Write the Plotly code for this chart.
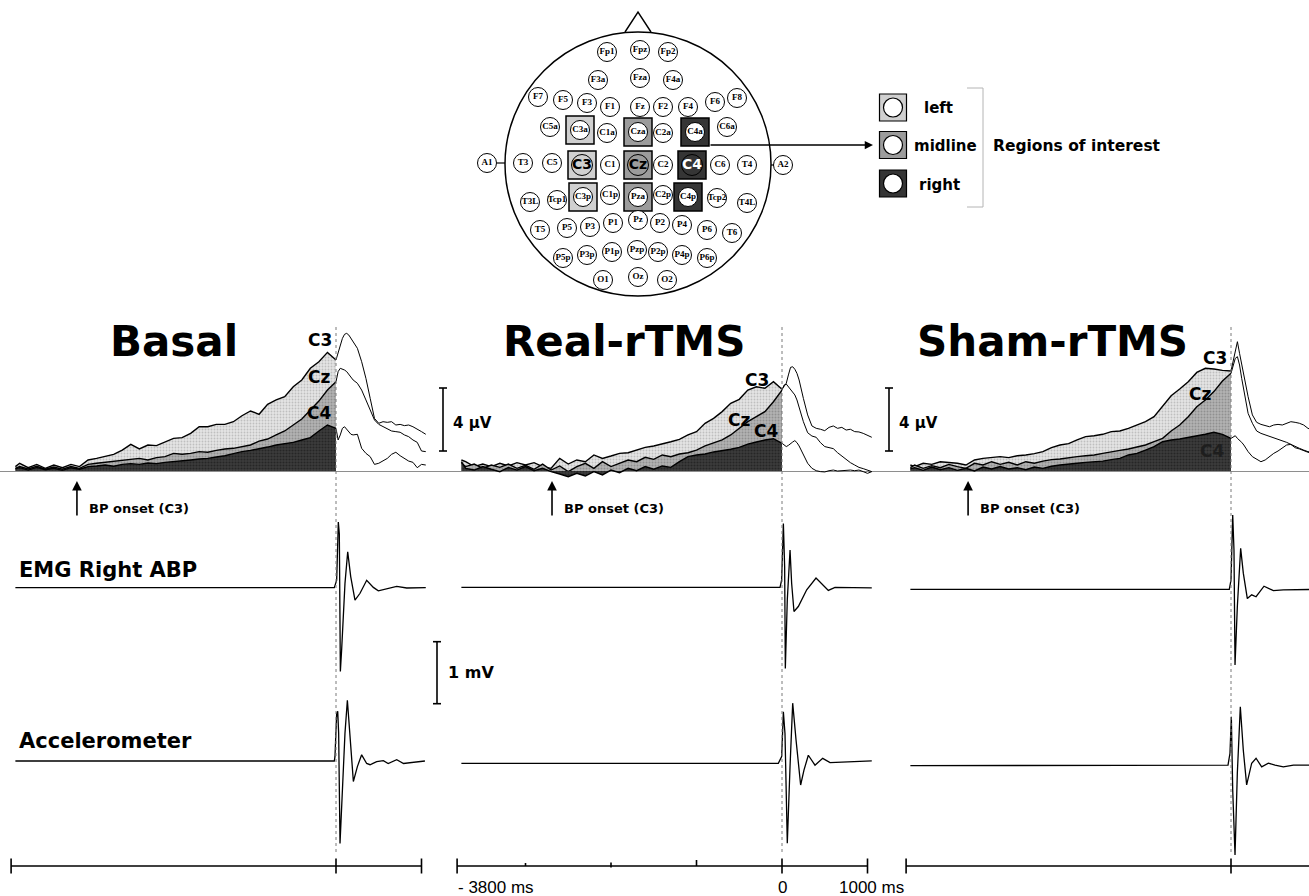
import plotly.graph_objects as go

# ---------------------------------------------------------------- data
CONDITIONS = ["Basal", "Real-rTMS", "Sham-rTMS"]
CHANNELS = ["C3", "Cz", "C4"]

# sample times (ms, movement onset = 0)
T_PRE = [-3750, -3700, -3600, -3500, -3400, -3300, -3200, -3100, -3000, -2900,
         -2800, -2700, -2600, -2500, -2400, -2300, -2200, -2100, -2000, -1900,
         -1800, -1700, -1600, -1500, -1400, -1300, -1200, -1100, -1000, -900,
         -800, -700, -600, -500, -400, -300, -200, -100, 0]
T_POST = [0, 25, 50, 75, 100, 125, 150, 175, 200, 250, 300, 350, 400, 450, 500,
          550, 600, 650, 700, 750, 800, 850, 900, 950, 1000, 1050]

# Bereitschaftspotential (µV) before movement onset
BASAL_C3_PRE = [0.28, 0.49, 0.21, 0.42, 0.17, 0.38, 0.21, 0.42, 0.28, 0.70,
                0.80, 0.91, 1.06, 1.33, 1.69, 1.40, 1.65, 1.61, 1.82, 2.07,
                2.12, 2.39, 2.81, 2.81, 2.96, 2.96, 3.13, 3.51, 3.81, 3.60,
                4.23, 4.51, 4.72, 5.35, 5.78, 6.52, 6.94, 7.53, 7.05]
BASAL_CZ_PRE = [0.17, 0.28, 0.13, 0.30, 0.11, 0.25, 0.11, 0.28, 0.17, 0.42,
                0.49, 0.55, 0.63, 0.70, 0.76, 0.80, 0.70, 0.85, 0.91, 1.12,
                1.06, 1.12, 1.23, 1.19, 1.31, 1.40, 1.44, 1.54, 1.65, 1.90,
                2.03, 2.29, 2.54, 2.92, 3.30, 3.87, 4.44, 5.14, 5.67]
BASAL_C4_PRE = [0.13, 0.21, 0.06, 0.23, 0.08, 0.17, 0.04, 0.21, 0.11, 0.28,
                0.32, 0.38, 0.30, 0.42, 0.47, 0.42, 0.51, 0.47, 0.55, 0.59,
                0.63, 0.70, 0.76, 0.80, 0.89, 0.97, 1.10, 1.23, 1.31, 1.40,
                1.52, 1.65, 1.74, 1.82, 1.97, 2.12, 2.54, 2.92, 2.71]

REAL_C3_PRE = [0.70, 0.59, 0.28, 0.44, 0.28, 0.49, 0.32, 0.53, 0.38, 0.53,
               0.28, 0.17, 0.80, 0.44, 0.70, 0.59, 1.02, 0.80, 0.95, 1.12,
               1.16, 1.33, 1.50, 1.59, 1.71, 1.86, 2.01, 2.29, 2.50, 3.03,
               3.34, 3.77, 4.30, 4.55, 5.14, 5.35, 5.25, 5.67, 5.19]
REAL_CZ_PRE = [0.49, 0.28, 0.44, 0.17, 0.38, 0.23, 0.44, 0.17, 0.36, 0.11,
               0.44, 0.06, 0.32, -0.04, 0.28, 0.49, 0.17, 0.59, 0.28, 0.49,
               0.70, 0.59, 0.87, 0.74, 1.02, 0.91, 1.08, 1.16, 1.33, 1.59,
               1.80, 1.97, 2.29, 2.71, 3.13, 3.45, 3.77, 4.40, 5.14]
REAL_C4_PRE = [0.59, 0.17, 0.06, 0.28, 0.11, -0.04, 0.23, 0.06, 0.28, 0.02,
               0.17, -0.04, -0.19, -0.36, -0.15, -0.32, -0.04, -0.25, 0.06, -0.11,
               0.17, 0.02, 0.28, 0.11, 0.32, 0.23, 0.59, 0.91, 1.02, 1.08,
               1.21, 1.29, 1.38, 1.50, 1.71, 1.84, 1.97, 2.05, 1.76]

SHAM_C3_PRE = [0.38, 0.28, 0.49, 0.42, 0.59, 0.55, 0.49, 0.38, 0.70, 0.80,
               0.85, 0.91, 0.85, 0.97, 1.02, 1.10, 1.23, 1.48, 1.65, 1.74,
               1.97, 2.18, 2.24, 2.33, 2.50, 2.54, 2.71, 2.92, 3.13, 3.45,
               4.08, 4.78, 5.21, 5.67, 6.26, 6.52, 6.48, 6.39, 6.35]
SHAM_CZ_PRE = [0.21, 0.38, 0.17, 0.34, 0.21, 0.42, 0.28, 0.17, 0.49, 0.38,
               0.59, 0.42, 0.55, 0.38, 0.59, 0.49, 0.63, 0.72, 0.76, 0.85,
               0.91, 0.97, 1.02, 1.12, 1.23, 1.31, 1.40, 1.52, 1.65, 1.86,
               2.07, 2.54, 2.92, 3.45, 4.08, 4.51, 5.04, 5.71, 6.20]
SHAM_C4_PRE = [0.13, 0.21, 0.04, 0.25, 0.08, 0.21, 0.04, 0.17, 0.00, 0.25,
               0.13, 0.28, 0.13, 0.21, 0.08, 0.25, 0.17, 0.30, 0.38, 0.42,
               0.49, 0.55, 0.59, 0.63, 0.72, 0.80, 1.02, 1.12, 1.33, 1.55,
               1.86, 1.97, 2.03, 2.12, 2.20, 2.33, 2.46, 2.33, 2.07]

# potentials (µV) after movement onset
BASAL_C3_POST = [7.05, 7.47, 8.00, 8.42, 8.68, 8.74, 8.63, 8.42, 8.20, 7.79, 6.94, 5.88, 4.61,
                 3.34, 3.03, 3.13, 3.09, 3.13, 2.92, 2.96, 2.88, 2.92, 2.81, 2.67, 2.50, 2.33]
BASAL_CZ_POST = [5.67, 6.31, 6.52, 6.48, 6.41, 6.31, 6.14, 5.99, 5.78, 5.57, 5.14, 4.51, 3.87,
                 3.24, 2.96, 2.81, 2.67, 2.54, 2.50, 2.46, 2.29, 2.18, 1.97, 1.82, 1.27, 1.23]
BASAL_C4_POST = [2.71, 1.97, 2.29, 2.71, 2.81, 2.67, 2.50, 2.33, 2.29, 2.33, 1.44, 1.12, 0.91,
                 0.42, 0.49, 0.63, 0.80, 1.06, 1.19, 0.97, 0.80, 0.63, 0.55, 0.21, 0.42, 0.38]
REAL_C3_POST = [5.19, 5.40, 5.57, 6.10, 6.58, 6.62, 6.46, 6.20, 5.78, 4.61, 3.56, 2.86, 2.71,
                2.65, 2.56, 2.77, 2.86, 2.71, 2.77, 2.60, 2.65, 2.50, 2.48, 2.39, 2.29, 2.14]
REAL_CZ_POST = [5.14, 5.46, 5.52, 5.35, 5.19, 4.97, 4.83, 4.51, 4.04, 3.13, 2.43, 2.22, 2.14,
                1.80, 1.55, 1.50, 1.42, 1.16, 0.95, 0.74, 0.53, 0.38, 0.23, 0.15, 0.06, -0.04]
REAL_C4_POST = [1.76, 1.65, 1.55, 1.63, 1.71, 1.84, 1.93, 1.80, 1.59, 1.02, 0.49, 0.17, 0.02,
                -0.04, -0.06, 0.02, 0.06, 0.00, 0.02, 0.08, 0.06, 0.02, 0.06, -0.04, -0.15, -0.04]
SHAM_C3_POST = [6.35, 6.94, 7.58, 8.21, 7.47, 6.73, 6.10, 5.35, 4.72, 3.56, 3.09, 2.96, 2.88,
                2.81, 2.92, 2.96, 2.92, 3.03, 3.13, 3.09, 3.03, 2.92, 2.71, 2.60, 2.54, 2.50]
SHAM_CZ_POST = [6.20, 6.73, 7.15, 7.26, 6.73, 5.88, 5.04, 4.30, 3.66, 3.03, 2.54, 2.39, 2.29,
                2.24, 2.12, 2.03, 1.90, 1.82, 1.69, 1.55, 1.44, 1.33, 1.23, 1.19, 1.14, 1.12]
SHAM_C4_POST = [2.07, 2.18, 2.24, 2.07, 1.97, 1.82, 1.65, 1.40, 1.23, 0.91, 0.76, 0.59, 0.70,
                0.91, 1.12, 1.27, 1.44, 1.65, 1.69, 1.48, 1.40, 1.27, 1.19, 1.12, 1.10, 1.06]

# EMG of the right abductor pollicis brevis (mV)
BASAL_EMG_T = [-3750, -20, 8, 27, 39, 51, 66, 105, 137, 172, 222, 281, 359, 437, 495, 593, 710, 827, 1050]
BASAL_EMG_V = [0, 0, 0.12, 1.06, 0.87, -1.35, -1.00, 0.07, 0.58, 0.18, -0.20, -0.09, 0.12,
               0.005, -0.05, -0.02, 0.02, -0.005, 0]
REAL_EMG_T = [-3750, -23, -4, 16, 31, 39, 62, 94, 113, 140, 191, 289, 398, 484, 542, 620, 1050]
REAL_EMG_V = [0, 0, 0.12, 1.03, 0.33, -1.31, -0.20, 0.60, 0.06, -0.39, -0.31, -0.04, 0.15,
              0.02, -0.05, 0, -0.01]
SHAM_EMG_T = [-3750, -20, 0, 20, 35, 47, 74, 113, 144, 191, 242, 293, 386, 495, 612, 1050]
SHAM_EMG_V = [0, 0, 0.15, 1.20, 0.63, -1.22, -0.28, 0.66, 0.26, -0.15, -0.09, -0.12, 0.05,
              -0.02, -0.01, 0]

# accelerometer (same vertical scale as EMG)
BASAL_ACC_T = [-3750, -20, -12, 8, 20, 31, 47, 70, 105, 133, 164, 203, 250, 300, 359, 398,
               476, 554, 610, 710, 790, 1040]
BASAL_ACC_V = [0, 0, 0.07, 0.77, 0.80, 0.45, -1.33, -0.63, 0.45, 0.98, 0.45, -0.33, -0.09,
               0.10, -0.04, -0.06, -0.01, 0.005, -0.04, 0.02, -0.04, 0]
REAL_ACC_T = [-3750, -43, -4, 16, 35, 62, 94, 125, 164, 218, 257, 308, 386, 476, 562, 1050]
REAL_ACC_V = [0, 0, 0.11, 0.83, 0.48, -1.29, -0.05, 0.97, 0.38, -0.35, -0.11, 0.13, -0.03,
              0.08, 0.01, 0.04]
SHAM_ACC_T = [-3750, -35, -12, 4, 20, 47, 74, 109, 144, 183, 242, 293, 359, 437, 515, 612, 730, 1050]
SHAM_ACC_V = [0, 0.01, 0.20, 0.79, -0.39, -1.44, -0.12, 0.95, 0.25, -0.31, 0.04, 0.12, -0.02,
              0.04, 0.01, -0.02, 0.01, 0.01]

BP_ONSET_MS = [-3030, -2690, -3075]
EEG_SCALE_UV = 4
EMG_SCALE_MV = 1
TIME_START_MS = -3800
TIME_END_MS = 1000
TIME_MINOR_MS = [-3000, -2000, -1000]

EEG_PRE = [[BASAL_C3_PRE, BASAL_CZ_PRE, BASAL_C4_PRE],
           [REAL_C3_PRE, REAL_CZ_PRE, REAL_C4_PRE],
           [SHAM_C3_PRE, SHAM_CZ_PRE, SHAM_C4_PRE]]
EEG_POST = [[BASAL_C3_POST, BASAL_CZ_POST, BASAL_C4_POST],
            [REAL_C3_POST, REAL_CZ_POST, REAL_C4_POST],
            [SHAM_C3_POST, SHAM_CZ_POST, SHAM_C4_POST]]
EMG = [(BASAL_EMG_T, BASAL_EMG_V), (REAL_EMG_T, REAL_EMG_V), (SHAM_EMG_T, SHAM_EMG_V)]
ACC = [(BASAL_ACC_T, BASAL_ACC_V), (REAL_ACC_T, REAL_ACC_V), (SHAM_ACC_T, SHAM_ACC_V)]

# electrode montage (head-centred units, y towards the nose)
EL_NAMES = ["Fp1", "Fpz", "Fp2", "F3a", "Fza", "F4a", "F7", "F5", "F3", "F1", "Fz", "F2", "F4", "F6", "F8",
            "C5a", "C3a", "C1a", "Cza", "C2a", "C4a", "C6a",
            "A1", "T3", "C5", "C3", "C1", "Cz", "C2", "C4", "C6", "T4", "A2",
            "T3L", "Tcp1", "C3p", "C1p", "Pza", "C2p", "C4p", "Tcp2", "T4L",
            "T5", "P5", "P3", "P1", "Pz", "P2", "P4", "P6", "T6",
            "P5p", "P3p", "P1p", "Pzp", "P2p", "P4p", "P6p",
            "O1", "Oz", "O2"]
EL_X = [-31, 2, 30, -40, 2, 35, -100, -75, -51, -28, 2, 25, 50, 77, 99,
        -88, -58, -31, 0, 25, 57, 89,
        -151, -115, -86, -56, -28, 0, 25, 54, 82, 109, 145,
        -108, -81, -55, -28, 0, 25, 50, 79, 109,
        -98, -71, -48, -25, 0, 22, 44, 69, 94,
        -75, -51, -26, -1, 20, 44, 69,
        -35, 0, 29]
EL_Y = [112, 114, 112, 84, 86, 84, 67, 64, 61, 57, 57, 57, 57, 62, 66,
        37, 34, 31, 32, 31, 32, 37,
        1, 1, 1, -1, -1, -1, -1, -1, -1, -1, -1,
        -38, -36, -33, -31, -33, -31, -33, -34, -39,
        -66, -64, -63, -59, -56, -59, -61, -66, -69,
        -94, -91, -88, -86, -88, -91, -94,
        -116, -113, -116]
ROI_NAMES = ["left", "midline", "right"]
ROI_ELECTRODES = [["C3a", "C3", "C3p"], ["Cza", "Cz", "Pza"], ["C4a", "C4", "C4p"]]

# ---------------------------------------------------------------- layout constants
W, H = 1309, 896
PANEL_PX = [(0, 450), (450, 900), (900, 1309)]
ZERO_PX = [336, 782, 1231]
PX_PER_MS = 0.0855
EEG_BASE = 471
PX_PER_UV = 15.75
EEG_BOX = (290, 525)
PX_PER_MV = 62
EMG_BASE = [587.7, 587.3, 589.3]
EMG_BOX = (495, 715)
ACC_BASE = [761, 763.3, 765.7]
ACC_BOX = (672, 870)
BAR_BASE = 866
BAR_BOX = (846, 886)

HEAD_C = (638, 164)
HEAD_R = 133
HEAD_BOX = (468, 1000, 0, 305)

BOLD = "DejaVu Sans"
ROI_COL = ["#d0d0d0", "#9c9c9c", "#353535"]
FILLS = [dict(shape=".", fgcolor="#9a9a9a", bgcolor="#e4e4e4", size=3, solidity=0.3),
         dict(shape=".", fgcolor="#6e6e6e", bgcolor="#b2b2b2", size=3, solidity=0.35),
         dict(shape=".", fgcolor="#101010", bgcolor="#3c3c3c", size=3, solidity=0.4)]


def px(x):
    return x / W


def py(y):
    return 1 - y / H


def ydomain(top, bot):
    return [1 - bot / H, 1 - top / H]


def yrange(base, ppu, box):
    return [-(box[1] - base) / ppu, (base - box[0]) / ppu]


def ax_id(prefix, n):
    return prefix if n == 1 else f"{prefix}{n}"


def ax_key(prefix, n):
    return f"{prefix}axis" if n == 1 else f"{prefix}axis{n}"


hidden = dict(visible=False, fixedrange=True)
fig = go.Figure()
layout = {}
shapes = []
annotations = []

for i in range(3):
    a, b = PANEL_PX[i]
    z = ZERO_PX[i]
    xn = i + 1
    layout[ax_key("x", xn)] = dict(hidden, domain=[px(a), px(b)],
                                   range=[(a - z) / PX_PER_MS, (b - z) / PX_PER_MS],
                                   anchor=ax_id("y", 1 + i))
    xid = ax_id("x", xn)
    y_eeg, y_emg, y_acc, y_bar = 1 + i, 4 + i, 7 + i, 10 + i
    layout[ax_key("y", y_eeg)] = dict(visible=True, fixedrange=True, showticklabels=False,
                                      showgrid=False, showline=False, ticks="",
                                      zeroline=True, zerolinecolor="#8e8e8e", zerolinewidth=1,
                                      domain=ydomain(*EEG_BOX),
                                      range=yrange(EEG_BASE, PX_PER_UV, EEG_BOX), anchor=xid)
    layout[ax_key("y", y_emg)] = dict(hidden, domain=ydomain(*EMG_BOX),
                                      range=yrange(EMG_BASE[i], PX_PER_MV, EMG_BOX), anchor=xid)
    layout[ax_key("y", y_acc)] = dict(hidden, domain=ydomain(*ACC_BOX),
                                      range=yrange(ACC_BASE[i], PX_PER_MV, ACC_BOX), anchor=xid)
    layout[ax_key("y", y_bar)] = dict(hidden, domain=ydomain(*BAR_BOX),
                                      range=yrange(BAR_BASE, 1, BAR_BOX), anchor=xid)

    # movement-related potentials: filled before onset, plain after
    for c in range(3):
        fig.add_trace(go.Scatter(x=T_PRE, y=EEG_PRE[i][c], mode="lines",
                                 line=dict(color="black", width=1.4),
                                 fill="tozeroy", fillpattern=FILLS[c],
                                 xaxis=xid, yaxis=ax_id("y", y_eeg), hoverinfo="skip"))
    for c in range(3):
        fig.add_trace(go.Scatter(x=T_POST, y=EEG_POST[i][c], mode="lines",
                                 line=dict(color="black", width=1),
                                 xaxis=xid, yaxis=ax_id("y", y_eeg), hoverinfo="skip"))

    fig.add_trace(go.Scatter(x=EMG[i][0], y=EMG[i][1], mode="lines",
                             line=dict(color="black", width=1.3),
                             xaxis=xid, yaxis=ax_id("y", y_emg), hoverinfo="skip"))
    fig.add_trace(go.Scatter(x=ACC[i][0], y=ACC[i][1], mode="lines",
                             line=dict(color="black", width=1.3),
                             xaxis=xid, yaxis=ax_id("y", y_acc), hoverinfo="skip"))

    # time scale bar
    bx = [TIME_START_MS, TIME_END_MS, None]
    by = [0, 0, None]
    for t in (TIME_START_MS, 0, TIME_END_MS):
        bx += [t, t, None]
        by += [-7.5, 7.5, None]
    if i == 1:
        for t, lo, hi in zip(TIME_MINOR_MS, (0, -1.5, 0), (3, 3.5, 6)):
            bx += [t, t, None]
            by += [lo, hi, None]
    fig.add_trace(go.Scatter(x=bx, y=by, mode="lines", line=dict(color="black", width=1.6),
                             xaxis=xid, yaxis=ax_id("y", y_bar), hoverinfo="skip"))

    # onset line
    shapes.append(dict(type="line", xref=xid, yref="paper", x0=0, x1=0,
                       y0=py(852), y1=py(325), line=dict(color="#7a7a7a", width=1, dash="dot")))

    # condition title
    annotations.append(dict(text=CONDITIONS[i], xref="paper", yref="paper",
                            x=px([174, 624, 1052][i]), y=py(341), showarrow=False,
                            xanchor="center", yanchor="middle",
                            font=dict(family=BOLD, size=42, color="black", weight="bold")))

    # BP onset marker
    annotations.append(dict(text="", xref=xid, yref=ax_id("y", y_eeg),
                            x=BP_ONSET_MS[i], y=-10 / PX_PER_UV, ax=0, ay=36,
                            showarrow=True, arrowhead=2, arrowsize=1.2, arrowwidth=1.6,
                            arrowcolor="black"))
    annotations.append(dict(text="BP onset (C3)", xref=xid, yref="paper",
                            x=BP_ONSET_MS[i] + 10 / PX_PER_MS, y=py(508), showarrow=False,
                            xanchor="left", yanchor="middle",
                            font=dict(family=BOLD, size=13, color="black", weight="bold")))

# channel labels next to the traces
CH_LABEL_POS = [[(-187, 8.3), (-200, 6.0), (-200, 3.7)],
                [(-292, 5.8), (-503, 3.24), (-187, 2.54)],
                [(-187, 7.17), (-363, 4.9), (-222, 1.27)]]
for i in range(3):
    for c in range(3):
        tx, ty = CH_LABEL_POS[i][c]
        annotations.append(dict(text=CHANNELS[c], xref=ax_id("x", i + 1), yref=ax_id("y", 1 + i),
                                x=tx, y=ty, showarrow=False, xanchor="center", yanchor="middle",
                                font=dict(family=BOLD, size=17, weight="bold",
                                          color="#1e1e1e" if (i == 2 and c == 2) else "black")))

# amplitude calibration bars (calibration label placed on the page)
CAL_X = 107 / PX_PER_MS
for i in (0, 1):
    lo = 20 / PX_PER_UV
    hi = lo + EEG_SCALE_UV
    cap = 4 / PX_PER_MS
    fig.add_trace(go.Scatter(x=[CAL_X - cap, CAL_X + cap, None, CAL_X, CAL_X, None, CAL_X - cap, CAL_X + cap],
                             y=[lo, lo, None, lo, hi, None, hi, hi], mode="lines",
                             line=dict(color="black", width=1.6),
                             xaxis=ax_id("x", i + 1), yaxis=ax_id("y", 1 + i), hoverinfo="skip"))
    label_px_x = ZERO_PX[i] + 107 + 8
    label_px_y = EEG_BASE - (lo + hi) / 2 * PX_PER_UV + 3
    annotations.append(dict(text=f"{EEG_SCALE_UV} µV", xref="paper", yref="paper",
                            x=px(label_px_x), y=py(label_px_y), showarrow=False,
                            xanchor="left", yanchor="middle",
                            font=dict(family=BOLD, size=15, weight="bold", color="black")))

mv_x = 101 / PX_PER_MS
mv_hi = -54 / PX_PER_MV
mv_lo = mv_hi - EMG_SCALE_MV
cap = 4 / PX_PER_MS
fig.add_trace(go.Scatter(x=[mv_x - cap, mv_x + cap, None, mv_x, mv_x, None, mv_x - cap, mv_x + cap],
                         y=[mv_lo, mv_lo, None, mv_lo, mv_hi, None, mv_hi, mv_hi], mode="lines",
                         line=dict(color="black", width=1.6), xaxis="x", yaxis="y4", hoverinfo="skip"))
annotations.append(dict(text=f"{EMG_SCALE_MV} mV", xref="paper", yref="paper",
                        x=px(ZERO_PX[0] + 101 + 9), y=py(EMG_BASE[0] - (mv_lo + mv_hi) / 2 * PX_PER_MV),
                        showarrow=False, xanchor="left", yanchor="middle",
                        font=dict(family=BOLD, size=16, weight="bold", color="black")))

# row labels
for text, yy in (("EMG Right ABP", 570), ("Accelerometer", 741)):
    annotations.append(dict(text=text, xref="paper", yref="paper", x=px(17), y=py(yy),
                            showarrow=False, xanchor="left", yanchor="middle",
                            font=dict(family=BOLD, size=21, weight="bold", color="black")))

# time scale labels (middle panel)
for t, txt, anc in ((TIME_START_MS, "- 3800 ms", "left"), (0, "0", "center"), (TIME_END_MS, "1000 ms", "center")):
    annotations.append(dict(text=txt, xref="x2", yref="paper",
                            x=t - (1 / PX_PER_MS if anc == "left" else 0) + (4 / PX_PER_MS if t == TIME_END_MS else 0),
                            y=py(887), showarrow=False, xanchor=anc, yanchor="middle",
                            font=dict(family="Liberation Sans", size=17, color="black")))

# ---------------------------------------------------------------- electrode montage
hx0, hx1, hy0, hy1 = HEAD_BOX
layout["xaxis4"] = dict(hidden, domain=[px(hx0), px(hx1)],
                        range=[hx0 - HEAD_C[0], hx1 - HEAD_C[0]], anchor="y13")
layout["yaxis13"] = dict(hidden, domain=ydomain(hy0, hy1),
                         range=[HEAD_C[1] - hy1, HEAD_C[1] - hy0], anchor="x4")

shapes.append(dict(type="circle", xref="x4", yref="y13", x0=-HEAD_R, x1=HEAD_R,
                   y0=-HEAD_R + 1, y1=HEAD_R - 1, line=dict(color="black", width=1.5)))
shapes.append(dict(type="path", xref="x4", yref="y13", path="M -13 132 L 0 152 L 13 132",
                   line=dict(color="black", width=1.4)))
shapes.append(dict(type="line", xref="x4", yref="y13", x0=-141, x1=-HEAD_R, y0=1, y1=1,
                   line=dict(color="black", width=1.2)))
shapes.append(dict(type="line", xref="x4", yref="y13", x0=HEAD_R, x1=136, y0=-1, y1=-1,
                   line=dict(color="black", width=1.2)))

pos = {n: (x, y) for n, x, y in zip(EL_NAMES, EL_X, EL_Y)}
for g in range(3):
    names = ROI_ELECTRODES[g]
    fig.add_trace(go.Scatter(x=[pos[n][0] for n in names], y=[pos[n][1] for n in names],
                             mode="markers", marker=dict(symbol="square", size=28, color=ROI_COL[g],
                                                         line=dict(color="black", width=1.5)),
                             xaxis="x4", yaxis="y13", hoverinfo="skip", cliponaxis=False))

centre = ["C3", "Cz", "C4"]
others = [n for n in EL_NAMES if n not in centre]
fig.add_trace(go.Scatter(x=[pos[n][0] for n in others], y=[pos[n][1] for n in others],
                         mode="markers+text", text=others, textposition="middle center",
                         marker=dict(symbol="circle", size=19, color="white",
                                     line=dict(color="black", width=1)),
                         textfont=dict(family="Liberation Serif", size=9, color="black", weight="bold"),
                         xaxis="x4", yaxis="y13", hoverinfo="skip", cliponaxis=False))
fig.add_trace(go.Scatter(x=[pos[n][0] for n in centre], y=[pos[n][1] for n in centre],
                         mode="markers+text", text=centre, textposition="middle center",
                         marker=dict(symbol="circle", size=21, color=ROI_COL,
                                     line=dict(color="black", width=1)),
                         textfont=dict(family=BOLD, size=14, weight="bold",
                                       color=["black", "black", "white"]),
                         xaxis="x4", yaxis="y13", hoverinfo="skip", cliponaxis=False))

# ROI key
key_x = 893 - HEAD_C[0]
key_y = [HEAD_C[1] - 107.5, HEAD_C[1] - 145, HEAD_C[1] - 183.5]
fig.add_trace(go.Scatter(x=[key_x] * 3, y=key_y, mode="markers",
                         marker=dict(symbol="square", size=27, color=ROI_COL,
                                     line=dict(color="black", width=1.2)),
                         xaxis="x4", yaxis="y13", hoverinfo="skip", cliponaxis=False))
fig.add_trace(go.Scatter(x=[key_x] * 3, y=key_y, mode="markers",
                         marker=dict(symbol="circle", size=19, color="white",
                                     line=dict(color="black", width=1.2)),
                         xaxis="x4", yaxis="y13", hoverinfo="skip", cliponaxis=False))
for txt, xx, yy in zip(ROI_NAMES, (922, 912, 917), (108, 146, 185)):
    annotations.append(dict(text=txt, xref="paper", yref="paper", x=px(xx), y=py(yy),
                            showarrow=False, xanchor="left", yanchor="middle",
                            font=dict(family=BOLD, size=15, weight="bold", color="black")))
annotations.append(dict(text="Regions of interest", xref="paper", yref="paper", x=px(991), y=py(146),
                        showarrow=False, xanchor="left", yanchor="middle",
                        font=dict(family=BOLD, size=15.5, weight="bold", color="black")))
shapes.append(dict(type="path", xref="paper", yref="paper",
                   path=f"M {px(967)} {py(88)} L {px(983)} {py(88)} L {px(983)} {py(207)} L {px(967)} {py(207)}",
                   line=dict(color="#b4b4b4", width=1)))
annotations.append(dict(text="", xref="x4", yref="y13", axref="x4", ayref="y13",
                        x=key_x - 20, y=HEAD_C[1] - 145, ax=71, ay=HEAD_C[1] - 145,
                        showarrow=True, arrowhead=2, arrowsize=1.1, arrowwidth=1.5, arrowcolor="black"))

fig.update_layout(width=W, height=H, margin=dict(l=0, r=0, t=0, b=0),
                  paper_bgcolor="white", plot_bgcolor="rgba(0,0,0,0)",
                  showlegend=False, shapes=shapes, annotations=annotations, **layout)

fig.write_html("out.html")
